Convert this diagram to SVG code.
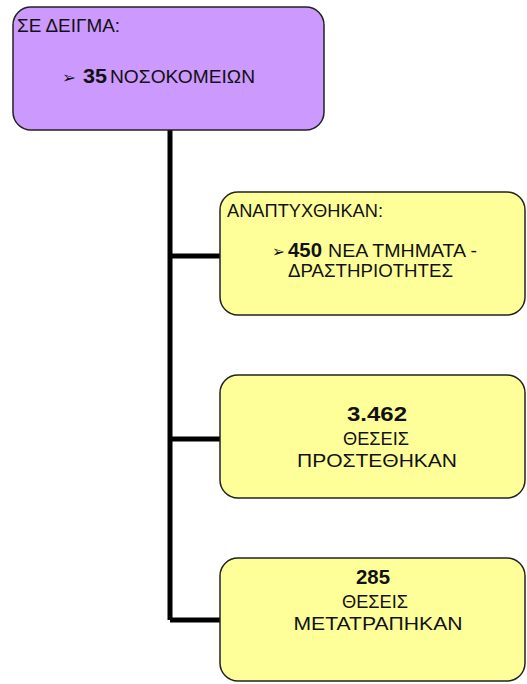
<svg xmlns="http://www.w3.org/2000/svg" width="527" height="684" viewBox="0 0 527 684">
<style>
.box{stroke:#222;stroke-width:1.5}
.p{fill:#CC99FF}
.y{fill:#FFFF99}
text{font-family:"Liberation Sans",Arial,sans-serif;font-size:18px;fill:#111}
.b{font-weight:bold;font-size:20px}
.bul{font-family:"DejaVu Sans",sans-serif;font-size:16px}
.c{text-anchor:middle}
.conn{stroke:#000;stroke-width:5;fill:none}
</style>
<rect width="527" height="684" fill="#fff"/>
<g id="connectors">
<path class="conn" d="M170 130 V620 M170 256 H220 M170 439 H220 M170 620 H220"/>
</g>
<g id="node-sample">
<rect class="box p" x="13" y="7" width="311" height="123" rx="18"/>
<text x="17" y="32" textLength="103" lengthAdjust="spacingAndGlyphs">ΣΕ ΔΕΙΓΜΑ:</text>
<text class="bul" x="62" y="83" textLength="14" lengthAdjust="spacingAndGlyphs">➢</text>
<text class="b" x="83" y="83" textLength="24" lengthAdjust="spacingAndGlyphs">35</text>
<text x="110" y="83" textLength="145" lengthAdjust="spacingAndGlyphs">ΝΟΣΟΚΟΜΕΙΩΝ</text>
</g>
<g id="node-developed">
<rect class="box y" x="220" y="192" width="305" height="123" rx="18"/>
<text x="227" y="217" textLength="156" lengthAdjust="spacingAndGlyphs">ΑΝΑΠΤΥΧΘΗΚΑΝ:</text>
<text class="bul" x="272" y="257" textLength="13" lengthAdjust="spacingAndGlyphs">➢</text>
<text class="b" x="288" y="257" textLength="34" lengthAdjust="spacingAndGlyphs">450</text>
<text x="328" y="257" textLength="149" lengthAdjust="spacingAndGlyphs">ΝΕΑ ΤΜΗΜΑΤΑ -</text>
<text x="288" y="277" textLength="165" lengthAdjust="spacingAndGlyphs">ΔΡΑΣΤΗΡΙΟΤΗΤΕΣ</text>
</g>
<g id="node-added">
<rect class="box y" x="220" y="375" width="305" height="123" rx="18"/>
<text class="b c" x="377" y="421" textLength="60" lengthAdjust="spacingAndGlyphs">3.462</text>
<text class="c" x="376" y="445" textLength="66" lengthAdjust="spacingAndGlyphs">ΘΕΣΕΙΣ</text>
<text class="c" x="377" y="467" textLength="160" lengthAdjust="spacingAndGlyphs">ΠΡΟΣΤΕΘΗΚΑΝ</text>
</g>
<g id="node-converted">
<rect class="box y" x="220" y="558" width="305" height="123" rx="18"/>
<text class="b c" x="373" y="584" textLength="34" lengthAdjust="spacingAndGlyphs">285</text>
<text class="c" x="375" y="608" textLength="66" lengthAdjust="spacingAndGlyphs">ΘΕΣΕΙΣ</text>
<text class="c" x="378" y="630" textLength="169" lengthAdjust="spacingAndGlyphs">ΜΕΤΑΤΡΑΠΗΚΑΝ</text>
</g>
</svg>
